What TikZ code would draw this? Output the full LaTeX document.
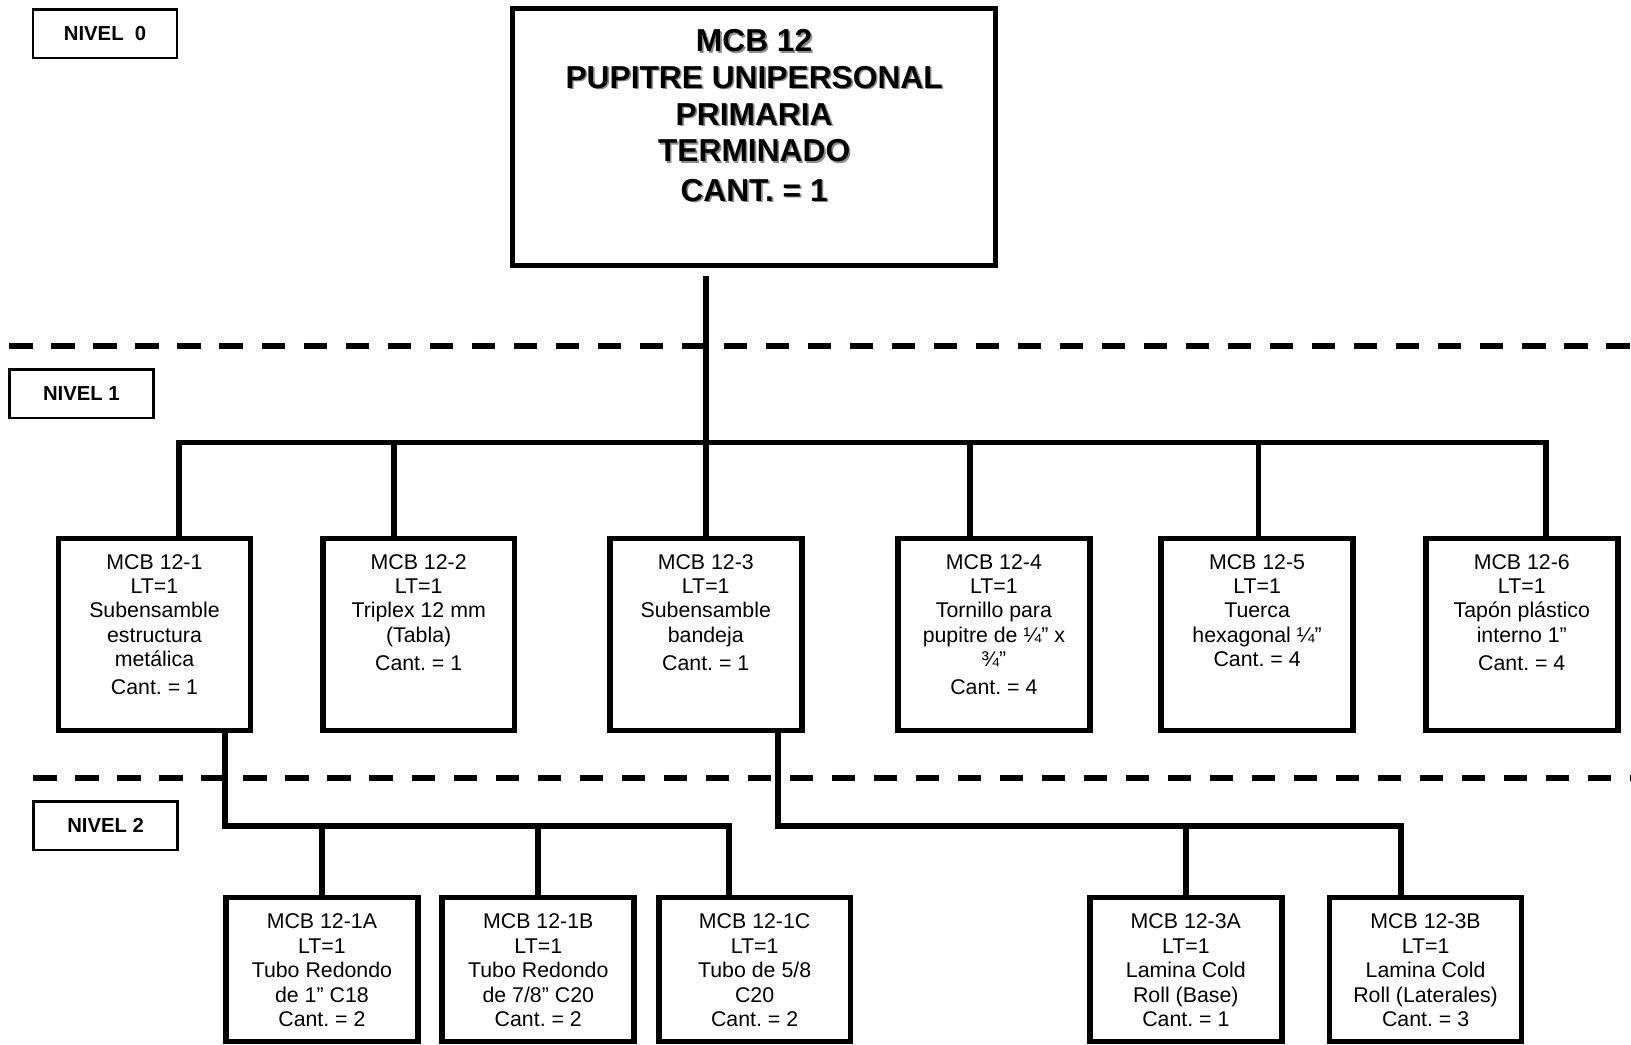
\documentclass[tikz,border=0pt]{standalone}
\usepackage{fontspec}
\setmainfont{Liberation Sans}
\frenchspacing

\definecolor{shadowgray}{gray}{0.55}
% bold heading text with a soft grey drop shadow
\newcommand\shadowed[1]{\makebox[0pt][l]{\hspace{1.6pt}\raisebox{-1.6pt}{\textcolor{shadowgray}{#1}}}#1}
% top-aligned contents of the boxes
\newcommand\lvtop[1]{\parbox[c][247pt][t]{450pt}{\centering\vspace*{20pt}#1}}
\newcommand\lvone[1]{\parbox[c][184.5pt][t]{178pt}{\centering\vspace*{15pt}#1}}
\newcommand\lvtwo[1]{\parbox[c][138.5pt][t]{178pt}{\centering\vspace*{15.8pt}#1}}

\tikzset{
  link/.style={line width=5.5pt},
  levelline/.style={dash pattern=on 22.4pt off 18pt, line width=5.8pt},
  tag/.style={draw, line width=2.5pt, inner sep=0pt, minimum width=138.5pt,
    minimum height=46.5pt, font=\fontsize{19.5}{22}\selectfont\bfseries},
  head/.style={draw, line width=5pt, inner sep=0pt, minimum width=464pt,
    minimum height=247pt, font=\fontsize{30.5}{35.3}\selectfont\bfseries},
  part/.style={draw, line width=5.5pt, inner sep=0pt, minimum width=184.5pt,
    minimum height=184.5pt, font=\fontsize{20.5}{23.5}\selectfont},
  sub/.style={draw, line width=5.5pt, inner sep=0pt, minimum width=184.5pt,
    minimum height=138.5pt, font=\fontsize{20.5}{23.5}\selectfont},
}

\begin{document}
\begin{tikzpicture}[x=1pt, y=-1pt]
\useasboundingbox (0,0) rectangle (1568,1004);

% level separators
\coordinate (d1a) at (9,332.5);
\coordinate (d1b) at (1568,332.5);
\coordinate (d2a) at (32,748);
\coordinate (d2b) at (1568,748);
\draw[levelline] (d1a) -- (d1b);
\draw[levelline] (d2a) -- (d2b);

% level tags
\node[tag] (n0) at (101,32.5) {NIVEL\ \ 0};
\node[tag] (n1) at (78.25,378.5) {NIVEL 1};
\node[tag] (n2) at (101.5,794) {NIVEL 2};

% level 0
\node[head] (top) at (725,131.8) {\lvtop{\shadowed{MCB 12}\\
  \shadowed{PUPITRE UNIPERSONAL}\\ \shadowed{PRIMARIA}\\
  \shadowed{TERMINADO}\\[2.5pt] \shadowed{CANT. = 1}}};

% level 1
\node[part] (b1) at (148.5,610) {\lvone{MCB 12-1\\ LT=1\\ Subensamble\\ estructura\\ metálica\\[3.5pt] Cant. = 1}};
\node[part] (b2) at (402.5,610) {\lvone{MCB 12-2\\ LT=1\\ Triplex 12 mm\\ (Tabla)\\[3.5pt] Cant. = 1}};
\node[part] (b3) at (678.5,610) {\lvone{MCB 12-3\\ LT=1\\ Subensamble\\ bandeja\\[3.5pt] Cant. = 1}};
\node[part] (b4) at (955.5,610) {\lvone{MCB 12-4\\ LT=1\\ Tornillo para\\ pupitre de ¼” x\\ ¾”\\[3.5pt] Cant. = 4}};
\node[part] (b5) at (1208.5,610) {\lvone{MCB 12-5\\ LT=1\\ Tuerca\\ hexagonal ¼”\\ Cant. = 4}};
\node[part] (b6) at (1463,610) {\lvone{MCB 12-6\\ LT=1\\ Tapón plástico\\ interno 1”\\[3.5pt] Cant. = 4}};

% level 2
\node[sub] (s1a) at (309.5,932) {\lvtwo{MCB 12-1A\\ LT=1\\ Tubo Redondo\\ de 1” C18\\ Cant. = 2}};
\node[sub] (s1b) at (517.5,932) {\lvtwo{MCB 12-1B\\ LT=1\\ Tubo Redondo\\ de 7/8” C20\\ Cant. = 2}};
\node[sub] (s1c) at (725.5,932) {\lvtwo{MCB 12-1C\\ LT=1\\ Tubo de 5/8\\ C20\\ Cant. = 2}};
\node[sub] (s3a) at (1140,932) {\lvtwo{MCB 12-3A\\ LT=1\\ Lamina Cold\\ Roll (Base)\\ Cant. = 1}};
\node[sub] (s3b) at (1370.5,932) {\lvtwo{MCB 12-3B\\ LT=1\\ Lamina Cold\\ Roll (Laterales)\\ Cant. = 3}};

% connectors, level 0 -> level 1
\coordinate (bus1) at (679,425.5);
\coordinate (t1) at ([xshift=23.5pt]b1.north);
\coordinate (t2) at ([xshift=-24pt]b2.north);
\coordinate (t4) at ([xshift=-23pt]b4.north);
\coordinate (t5) at ([xshift=1.5pt]b5.north);
\coordinate (t6) at ([xshift=23pt]b6.north);
\draw[link] (b3.north |- top.south) ++(0,8) -- (b3.north);
\draw[link] (t1) -- (t1 |- bus1) -- (t6 |- bus1) -- (t6);
\draw[link] (t2) -- (t2 |- bus1);
\draw[link] (t4) -- (t4 |- bus1);
\draw[link] (t5) -- (t5 |- bus1);

% connectors, level 1 -> level 2
\coordinate (bus2) at (0,794);
\coordinate (u1) at ([xshift=67.5pt]b1.south);
\coordinate (u3) at ([xshift=69.5pt]b3.south);
\coordinate (v1c) at ([xshift=-24.5pt]s1c.north);
\coordinate (v3b) at ([xshift=-23.5pt]s3b.north);
\draw[link] (u1) -- (u1 |- bus2) -| (v1c);
\draw[link] (s1a.north) -- (s1a.north |- bus2);
\draw[link] (s1b.north) -- (s1b.north |- bus2);
\draw[link] (u3) -- (u3 |- bus2) -| (v3b);
\draw[link] (s3a.north) -- (s3a.north |- bus2);
\end{tikzpicture}
\end{document}
